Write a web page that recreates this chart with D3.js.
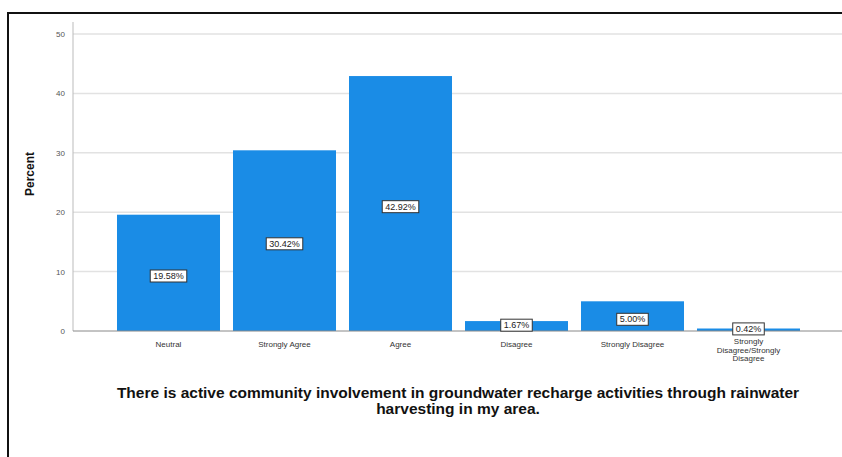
<!DOCTYPE html>
<html>
<head>
<meta charset="utf-8">
<script src="https://cdn.jsdelivr.net/npm/d3@7"></script>
<style>
  html, body { margin: 0; padding: 0; background: #fff; }
  svg { display: block; font-family: "Liberation Sans", Arial, sans-serif; }
</style>
</head>
<body>
<svg id="chart" width="842" height="457"></svg>
<script>
// Response categories, in the order drawn
const categories = ["Neutral", "Strongly Agree", "Agree", "Disagree", "Strongly Disagree", "Strongly Disagree/Strongly Disagree"];
// Wrapped axis labels for each category
const categoryLines = [["Neutral"], ["Strongly Agree"], ["Agree"], ["Disagree"], ["Strongly Disagree"], ["Strongly", "Disagree/Strongly", "Disagree"]];
// Percent of respondents
const percents = [19.58, 30.42, 42.92, 1.67, 5.00, 0.42];
// Y-axis ticks
const yTicks = [0, 10, 20, 30, 40, 50];
const titleLines = ["There is active community involvement in groundwater recharge activities through rainwater", "harvesting in my area."];

const svg = d3.select("#chart");

// Frame
svg.append("path")
  .attr("d", "M8,460 V13 H845")
  .attr("fill", "none").attr("stroke", "#111").attr("stroke-width", 2);

const x = d3.scaleBand().domain(categories).range([110.5, 806.5])
  .paddingInner(0.112).paddingOuter(0.056);
const y = d3.scaleLinear().domain([0, 50]).range([331, 34]);

// Gridlines
svg.append("g").selectAll("line").data(yTicks.filter(t => t > 0)).join("line")
  .attr("x1", 73).attr("x2", 842)
  .attr("y1", d => y(d)).attr("y2", d => y(d))
  .attr("stroke", "#e2e2e2").attr("stroke-width", 1.5);

// Y axis
const yAxis = svg.append("g").attr("transform", "translate(73,0)")
  .call(d3.axisLeft(y).tickValues(yTicks).tickSize(0).tickPadding(8));
yAxis.select(".domain").remove();
yAxis.selectAll("text").attr("fill", "#555").style("font-size", "8px");
svg.append("line").attr("x1", 73).attr("x2", 73).attr("y1", 22).attr("y2", 331)
  .attr("stroke", "#bbb").attr("stroke-width", 1);

svg.append("text")
  .attr("transform", "translate(34,174) rotate(-90)")
  .attr("text-anchor", "middle")
  .attr("font-weight", "bold").attr("font-size", 12).attr("fill", "#111")
  .text("Percent");

// Bars
svg.append("g").selectAll("rect").data(categories).join("rect")
  .attr("x", d => x(d))
  .attr("width", x.bandwidth())
  .attr("y", (d, i) => y(percents[i]))
  .attr("height", (d, i) => y(0) - y(percents[i]))
  .attr("fill", "#1a8ce6");

// X axis line
svg.append("line").attr("x1", 73).attr("x2", 842).attr("y1", 331).attr("y2", 331)
  .attr("stroke", "#888").attr("stroke-width", 1);

// Category labels
const catG = svg.append("g").selectAll("text").data(categories).join("text")
  .attr("text-anchor", "middle")
  .attr("font-size", 8).attr("fill", "#333")
  .attr("x", d => x(d) + x.bandwidth() / 2)
  .attr("y", (d, i) => categoryLines[i].length > 1 ? 344 : 347);
catG.each(function (d, i) {
  const t = d3.select(this);
  categoryLines[i].forEach((line, k) => {
    t.append("tspan").attr("x", x(d) + x.bandwidth() / 2).attr("dy", k === 0 ? 0 : 8.5).text(line);
  });
});

// Value labels
const vals = svg.append("g").selectAll("g").data(categories).join("g")
  .attr("transform", (d, i) => `translate(${x(d) + x.bandwidth() / 2},${y(percents[i] / 2) + (percents[i] < 3 ? -1 : 3)})`);
vals.append("text")
  .attr("text-anchor", "middle").attr("dy", "0.35em")
  .attr("font-size", 9).attr("fill", "#222")
  .text((d, i) => percents[i].toFixed(2) + "%");
vals.each(function () {
  const g = d3.select(this);
  const bb = g.select("text").node().getBBox();
  g.insert("rect", "text")
    .attr("x", bb.x - 3).attr("y", bb.y - 1)
    .attr("width", bb.width + 6).attr("height", bb.height + 2)
    .attr("fill", "#fff").attr("stroke", "#333").attr("stroke-width", 1);
});

// Title
svg.append("text")
  .attr("text-anchor", "middle").attr("font-weight", "bold")
  .attr("font-size", 15.5).attr("fill", "#111")
  .selectAll("tspan").data(titleLines).join("tspan")
  .attr("x", 458).attr("y", (d, i) => 398 + i * 16)
  .text(d => d);
</script>
</body>
</html>
